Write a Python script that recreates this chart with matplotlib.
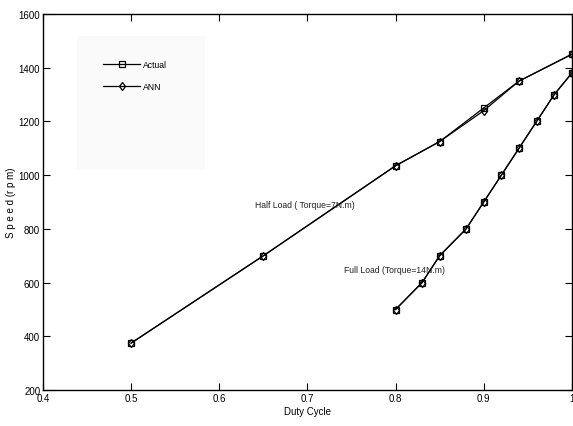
import matplotlib
matplotlib.use("Agg")
from matplotlib import pyplot as plt
from matplotlib.patches import Rectangle

plt.rcParams['font.family'] = ['Liberation Sans Narrow', 'Liberation Sans', 'DejaVu Sans']

# half load (7 N.m)
half_duty = [0.5, 0.65, 0.8, 0.85, 0.9, 0.94, 1.0]
half_actual = [375, 700, 1035, 1125, 1250, 1350, 1450]
half_ann = [375, 700, 1035, 1125, 1240, 1350, 1450]

# full load (14 N.m)
full_duty = [0.8, 0.83, 0.85, 0.88, 0.9, 0.92, 0.94, 0.96, 0.98, 1.0]
full_actual = [500, 600, 700, 800, 900, 1000, 1100, 1200, 1300, 1380]
full_ann = [500, 600, 700, 800, 900, 1000, 1100, 1200, 1300, 1380]

xticks = [0.4, 0.5, 0.6, 0.7, 0.8, 0.9, 1.0]
xticklabels = ['0.4', '0.5', '0.6', '0.7', '0.8', '0.9', '1']
yticks = [200, 400, 600, 800, 1000, 1200, 1400, 1600]

fig = plt.figure(figsize=(5.73, 4.27), dpi=100)
ax = fig.add_axes([0.075, 0.084, 0.923, 0.881])

style = dict(color='black', lw=0.9, ms=4.5, mfc='none', mec='black', mew=0.9)
ax.plot(half_duty, half_actual, marker='s', label='Actual', **style)
ax.plot(half_duty, half_ann, marker='d', label='ANN', **style)
ax.plot(full_duty, full_actual, marker='s', **style)
ax.plot(full_duty, full_ann, marker='d', **style)

ax.text(0.64, 890, 'Half Load ( Torque=7N.m)', fontsize=6.2, color='#222222',
        ha='left', va='center')
ax.text(0.741, 648, 'Full Load (Torque=14N.m)', fontsize=6.2, color='#222222',
        ha='left', va='center')

ax.set_xlim(0.4, 1.0)
ax.set_ylim(200, 1600)
ax.set_xticks(xticks)
ax.set_xticklabels(xticklabels)
ax.set_yticks(yticks)
ax.tick_params(direction='in', top=True, right=True, length=5, width=0.8,
               labelsize=7, pad=2)
for s in ax.spines.values():
    s.set_linewidth(1.0)

ax.set_xlabel('Duty Cycle', fontsize=7, labelpad=2)
ax.set_ylabel('S p e e d (r p m)', fontsize=7, labelpad=2)

# faint legend panel
ax.add_patch(Rectangle((0.064, 0.588), 0.242, 0.354, transform=ax.transAxes,
                       facecolor='#fafafa', edgecolor='none', zorder=0))
ax.legend(loc='upper left', bbox_to_anchor=(0.106, 0.89), frameon=False,
          fontsize=6.2, handlelength=4.3, labelspacing=1.6,
          borderpad=0.0, handletextpad=0.3)

fig.savefig('out.png', dpi=100)
